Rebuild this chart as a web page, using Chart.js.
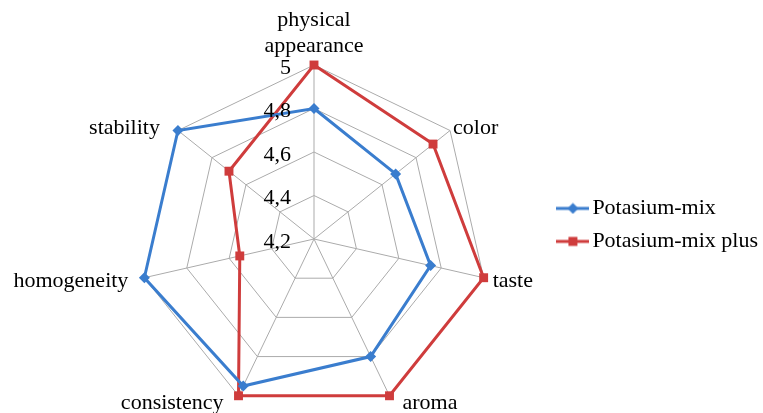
<!DOCTYPE html>
<html><head><meta charset="utf-8">
<script src="https://cdn.jsdelivr.net/npm/chart.js@4"></script>
<style>html,body{margin:0;padding:0;background:#fff;}#wrap{width:763px;height:413px;}</style>
</head><body><div id="wrap"><canvas id="c" width="763" height="413"></canvas></div>
<script>
const categories = [["physical","appearance"],"color","taste","aroma","consistency","homogeneity","stability"];
const seriesNames = ["Potasium-mix","Potasium-mix plus"];
const mixValues = [4.80, 4.68, 4.75, 4.80, 4.95, 5.00, 5.00];
const plusValues = [5.00, 4.90, 5.00, 5.00, 5.00, 4.55, 4.70];
const tickValues = [4.2, 4.4, 4.6, 4.8, 5.0];
const tickLabels = ["4,2","4,4","4,6","4,8","5"];

const BLUE = '#3A7DCE', RED = '#CF3C3C';
const FONT = "'Liberation Serif', 'Times New Roman', serif";
const FS = 22;

function legendImg(color, style){
  const c = document.createElement('canvas');
  c.width = 33; c.height = 12;
  const x = c.getContext('2d');
  x.strokeStyle = color; x.lineWidth = 3;
  x.beginPath(); x.moveTo(0,6); x.lineTo(33,6); x.stroke();
  x.fillStyle = color;
  if(style==='diamond'){ x.beginPath(); x.moveTo(16.5,0.5); x.lineTo(22,6); x.lineTo(16.5,11.5); x.lineTo(11,6); x.closePath(); x.fill(); }
  else { x.fillRect(12,1.5,9,9); }
  return c;
}
const imgs = [legendImg(BLUE,'diamond'), legendImg(RED,'rect')];

// label placement relative to outer vertex: [dx, dy, align]
const labelOffsets = [[0,-19,'center'],[3,-2,'left'],[9,4,'left'],[13,7,'left'],[-15,7,'right'],[-16,4,'right'],[-18,-2,'right']];

const textPlugin = {
  id:'textLayer',
  afterDatasetsDraw(chart){
    const s = chart.scales.r, ctx = chart.ctx;
    ctx.save();
    ctx.font = FS + "px " + FONT;
    ctx.fillStyle = '#000';
    ctx.textBaseline = 'middle';
    ctx.textAlign = 'right';
    tickValues.forEach((v,i)=>{
      const d = s.getDistanceFromCenterForValue(v);
      ctx.fillText(tickLabels[i], s.xCenter - 23, s.yCenter - d + 3);
    });
    categories.forEach((lab,i)=>{
      const p = s.getPointPosition(i, s.drawingArea);
      const o = labelOffsets[i];
      ctx.textAlign = o[2];
      const lines = Array.isArray(lab) ? lab : [lab];
      lines.forEach((t,k)=>{
        const y = p.y + o[1] - (lines.length-1-k)*26;
        ctx.fillText(t, p.x + o[0], y);
      });
    });
    ctx.restore();
  }
};

new Chart(document.getElementById('c'), {
  type:'radar',
  data:{
    labels: categories,
    datasets:[
      {label:seriesNames[0], data:mixValues, borderColor:BLUE, backgroundColor:BLUE, borderWidth:3, fill:false,
       pointStyle:'rectRot', pointRadius:5.5, pointHoverRadius:5.5, pointBackgroundColor:BLUE, pointBorderColor:BLUE, pointBorderWidth:0},
      {label:seriesNames[1], data:plusValues, borderColor:RED, backgroundColor:RED, borderWidth:3, fill:false,
       pointStyle:'rect', pointRadius:6.3, pointHoverRadius:6.3, pointBackgroundColor:RED, pointBorderColor:RED, pointBorderWidth:0}
    ]
  },
  options:{
    responsive:false, animation:false, devicePixelRatio:1,
    layout:{padding:{left:75,right:-5,top:65,bottom:0}},
    plugins:{
      legend:{position:'right', align:'start',
        title:{display:true, text:'', font:{size:12, lineHeight:1.2}, padding:{top:107,bottom:0}},
        labels:{usePointStyle:true, pointStyleWidth:17, padding:11, color:'#000',
          font:{family:FONT, size:FS},
          generateLabels(chart){
            return chart.data.datasets.map((d,i)=>({text:d.label, pointStyle:imgs[i], fillStyle:d.borderColor, strokeStyle:d.borderColor, lineWidth:0, datasetIndex:i, fontColor:'#000'}));
          }}},
      tooltip:{enabled:false}
    },
    scales:{r:{
      min:4.2, max:5.0,
      ticks:{stepSize:0.2, display:false},
      grid:{color:'#ababab', lineWidth:1},
      angleLines:{color:'#ababab', lineWidth:1},
      pointLabels:{display:false}
    }}
  },
  plugins:[textPlugin]
});
</script></body></html>
